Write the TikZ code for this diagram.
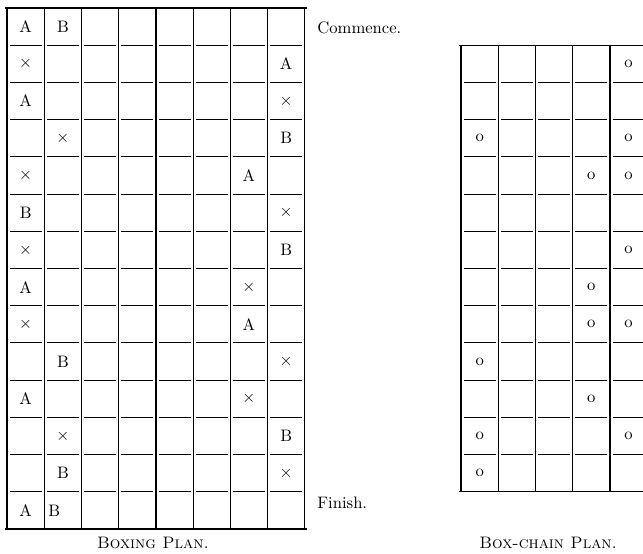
\documentclass[tikz,border=0pt]{standalone}
\usepackage{amsmath,amssymb}
\usepackage{tikz}
\usepackage{xcolor}
\newcommand{\crossX}{$\times$}

\begin{document}
\begin{tikzpicture}[x=0.787cm,y=0.787cm]
  \tikzset{rule/.style={line width=0.75pt}, seg/.style={line width=0.6pt}, entry/.style={inner sep=0pt}, lbl/.style={inner sep=0pt,anchor=west}}
  \useasboundingbox (-0.19,-0.655) rectangle (17.09,14.215);
  % boxing plan
  \draw[rule] (-0.05,14) -- (8.05,14); \draw[rule] (-0.05,0) -- (8.05,0);
  \foreach \x in {0,...,8} \draw[rule] (\x,0) -- (\x,14);
  \foreach \x in {0,...,7} \foreach \y in {1,...,13} \draw[seg] (\x+0.07,\y) -- (\x+0.93,\y);
  \foreach \c/\r/\t [count=\i] in {1/1/A, 2/1/B, 1/2/\crossX, 8/2/A, 1/3/A, 8/3/\crossX, 2/4/\crossX, 8/4/B, 1/5/\crossX, 7/5/A, 1/6/B, 8/6/\crossX, 1/7/\crossX, 8/7/B, 1/8/A, 7/8/\crossX, 1/9/\crossX, 7/9/A, 2/10/B, 8/10/\crossX, 1/11/A, 7/11/\crossX, 2/12/\crossX, 8/12/B, 2/13/B, 8/13/\crossX, 1/14/A}
    \node[entry] (bx\i) at (\c-0.5,14.5-\r) {\t};
  \node[lbl] (bxlast) at (1.1,0.5) {B};
  \node[lbl] (commence) at (8.33,13.46) {Commence.};
  \node[lbl] (finish) at (8.33,0.69) {Finish.};
  \node (boxcap) at (3.92,-0.38) {\textsc{Boxing Plan.}};
  % box-chain plan
  \draw[rule] (12.15,13) -- (17.3,13); \draw[rule] (12.15,1) -- (17.3,1);
  \foreach \x in {0,...,5} \draw[rule] (12.2+\x,1) -- (12.2+\x,13);
  \foreach \x in {0,...,4} \foreach \y in {2,...,12} \draw[seg] (12.27+\x,\y) -- (13.13+\x,\y);
  \foreach \c/\r [count=\i] in {5/1, 1/3, 5/3, 4/4, 5/4, 5/6, 4/7, 4/8, 5/8, 1/9, 4/10, 1/11, 5/11, 1/12}
    \node[entry] (ch\i) at (11.7+\c,13.5-\r) {o};
  \node (chaincap) at (14.54,-0.38) {\textsc{Box-chain Plan.}};
\end{tikzpicture}
\end{document}
